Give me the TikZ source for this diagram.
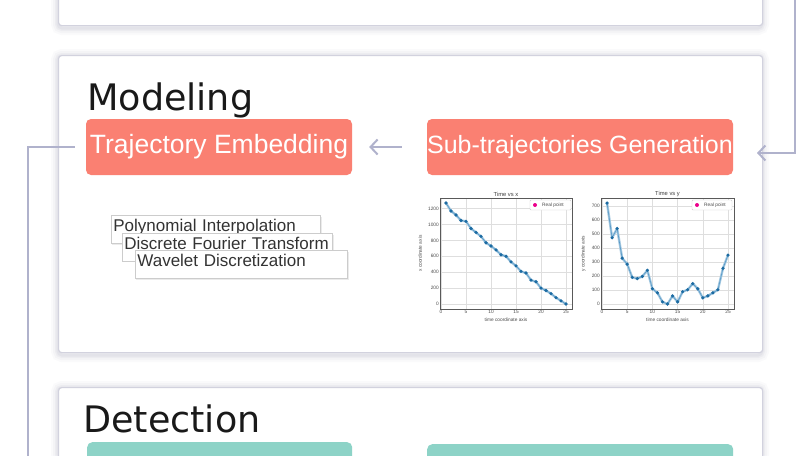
\documentclass[tikz,border=0pt]{standalone}
\usepackage{fontspec}
\setmainfont{Liberation Sans}
\newfontfamily\titlefont{DejaVu Sans}
\usetikzlibrary{arrows.meta}
\definecolor{salmon}{HTML}{FA8072}
\definecolor{teal3}{HTML}{8DD3C7}
\definecolor{panelborder}{HTML}{D2D2DE}
\definecolor{shadowc}{HTML}{8C8CAA}
\definecolor{conn}{HTML}{B0B2CC}
\definecolor{mplblue}{HTML}{1F77B4}
\definecolor{txtgrey}{HTML}{333333}
\begin{document}
\begin{tikzpicture}[x=1pt,y=-1pt,
  panel/.style={fill=white, draw=panelborder, line width=1.2pt, rounded corners=3pt, inner sep=0pt},
  pill/.style={fill=salmon, rounded corners=5pt, text=white, font=\fontsize{25}{28}\selectfont, inner sep=0pt},
  tealbox/.style={fill=teal3, rounded corners=5pt, inner sep=0pt},
  paneltitle/.style={font=\titlefont\fontsize{36.5}{40}\selectfont, text=black!90, inner sep=0pt},
  minibox/.style={fill=white, draw=black!20, line width=0.8pt, inner sep=2pt, align=left, text=txtgrey,
     font=\fontsize{17}{19}\selectfont, text height=14pt, text depth=10pt, anchor=north west},
  boxshadow/.style={fill=black, opacity=0.08},
  connline/.style={draw=conn, line width=2pt},
  arrowc/.style={connline, -{Straight Barb[length=7pt,width=15pt,line width=2pt]}},
  gridl/.style={draw=black!13, line width=0.35pt},
  frame/.style={draw=black!65, line width=0.5pt},
  tick/.style={font=\fontsize{4.8}{5}\selectfont, text=black!70, inner sep=1pt},
  ptitle/.style={font=\fontsize{5.8}{6}\selectfont, text=black!75, inner sep=1pt},
  halo/.style={draw=mplblue!40, line width=2.4pt, line join=round},
  dline/.style={draw=mplblue!75, line width=0.6pt, line join=round},
  dot/.style={fill=mplblue!90!black}
]
\useasboundingbox (0,0) rectangle (808,455);
\clip (0,0) rectangle (808,455);
\fill[white] (0,0) rectangle (808,455);

% soft shadows of the panels
\foreach \w/\o in {14/0.04,10/0.05,6/0.07,3/0.09}{
  \draw[shadowc, line width=\w pt, opacity=\o, rounded corners=4pt] (58,-20) rectangle (762,28);
  \draw[shadowc, line width=\w pt, opacity=\o, rounded corners=4pt] (58,56) rectangle (762,355);
  \draw[shadowc, line width=\w pt, opacity=\o, rounded corners=4pt] (58,388) rectangle (762,480);
}

% panels
\node[panel, minimum width=704pt, minimum height=45pt, anchor=north west] (ptop) at (58,-20) {};
\node[panel, minimum width=704pt, minimum height=297pt, anchor=north west] (pmodel) at (58,55) {};
\node[panel, minimum width=704pt, minimum height=90pt, anchor=north west] (pdetect) at (58,387) {};

% titles
\node[paneltitle, anchor=base west] (tmodel) at (87,110) {Modeling};
\node[paneltitle, anchor=base west] (tdetect) at (83,432) {Detection};

% main boxes
\node[pill, minimum width=266pt, minimum height=56pt, font=\fontsize{26.5}{28}\selectfont] (te) at (219,147) {Trajectory Embedding};
\node[pill, minimum width=306pt, minimum height=56pt] (sg) at (580,147) {Sub-trajectories Generation};

\node[tealbox, minimum width=265pt, minimum height=60pt, anchor=north west] (d1) at (87,442) {};
\node[tealbox, minimum width=306pt, minimum height=60pt, anchor=north west] (d2) at (427,444) {};

% connectors
\draw[arrowc, shorten <=25pt, shorten >=17pt] (sg.west) -- (te.east);
\coordinate (rtop) at (795,-5);
\coordinate (rtip) at (757,153);
\draw[arrowc] (rtop) |- (rtip);
\coordinate (lbot) at (28,470);
\draw[connline, shorten <=11pt] (te.west) -| (lbot);

% embedding methods (each with a faint shadow)
\fill[boxshadow] (112,217) rectangle (321.5,245);
\node[minibox, text width=205pt] (m1) at (111,215) {Polynomial Interpolation};
\fill[boxshadow] (123,235) rectangle (333.5,262);
\node[minibox, text width=206pt] (m2) at (122,233) {Discrete Fourier Transform};
\fill[boxshadow] (136,252) rectangle (348.5,280);
\node[minibox, text width=208pt] (m3) at (135,250) {Wavelet Discretization};

% ---------- plot 1: Time vs x ----------
\begin{scope}[shift={(441,304)}, x=5pt, y=0.0795pt]
  \foreach \t in {0,5,...,25}{
    \draw[gridl] (\t,-63.5) -- (\t,1333.5);
    \node[tick, anchor=north] at (\t,-63.5) {\t};
  }
  \foreach \v in {0,200,...,1200}{
    \draw[gridl] (-0.2,\v) -- (26.2,\v);
    \node[tick, anchor=east] at (-0.2,\v) {\v};
  }
  \draw[frame] (-0.2,-63.5) rectangle (26.2,1333.5);
  \node[ptitle, anchor=south] (t1) at (13,1333.5) {Time vs x};
  \node[tick, anchor=north] (xl1) at (13,-160) {time coordinate axis};
  \node[tick, rotate=90, anchor=south] (yl1) at (-3.6,635) {x coordinate axis};
  \def\pa{(1,1270) (2,1170) (3,1120) (4,1050) (5,1040) (6,950) (7,900) (8,850) (9,770) (10,730) (11,680) (12,620) (13,600) (14,530) (15,480) (16,410) (17,390) (18,300) (19,280) (20,200) (21,170) (22,130) (23,80) (24,40) (25,0)}
  \draw[halo] plot coordinates {\pa};
  \draw[dline] plot coordinates {\pa};
  \foreach \p in {(1,1270),(2,1170),(3,1120),(4,1050),(5,1040),(6,950),(7,900),(8,850),(9,770),(10,730),(11,680),(12,620),(13,600),(14,530),(15,480),(16,410),(17,390),(18,300),(19,280),(20,200),(21,170),(22,130),(23,80),(24,40),(25,0)}
    \fill[dot] \p circle[radius=1.8pt];
\end{scope}
\draw[draw=black!20, fill=white, line width=0.4pt, rounded corners=1pt] (530,200) rectangle (571,210);
\fill[magenta] (535,205) circle[radius=2pt];
\node[tick, anchor=west] (lg1) at (541,205) {Real point};

% ---------- plot 2: Time vs y ----------
\begin{scope}[shift={(602,304)}, x=5.04pt, y=0.1398pt]
  \foreach \t in {0,5,...,25}{
    \draw[gridl] (\t,-36) -- (\t,758);
    \node[tick, anchor=north] at (\t,-36) {\t};
  }
  \foreach \v in {0,100,...,700}{
    \draw[gridl] (-0.2,\v) -- (26.2,\v);
    \node[tick, anchor=east] at (-0.2,\v) {\v};
  }
  \draw[frame] (-0.2,-36) rectangle (26.2,758);
  \node[ptitle, anchor=south] (t2) at (13,758) {Time vs y};
  \node[tick, anchor=north] (xl2) at (13,-90) {time coordinate axis};
  \node[tick, rotate=90, anchor=south] (yl2) at (-3,360) {y coordinate axis};
  \def\pb{(1,722) (2,474) (3,540) (4,328) (5,285) (6,190) (7,182) (8,197) (9,241) (10,109) (11,80) (12,15) (13,0) (14,58) (15,15) (16,88) (17,102) (18,146) (19,109) (20,44) (21,58) (22,80) (23,102) (24,255) (25,350)}
  \draw[halo] plot coordinates {\pb};
  \draw[dline] plot coordinates {\pb};
  \foreach \p in {(1,722),(2,474),(3,540),(4,328),(5,285),(6,190),(7,182),(8,197),(9,241),(10,109),(11,80),(12,15),(13,0),(14,58),(15,15),(16,88),(17,102),(18,146),(19,109),(20,44),(21,58),(22,80),(23,102),(24,255),(25,350)}
    \fill[dot] \p circle[radius=1.8pt];
\end{scope}
\draw[draw=black!20, fill=white, line width=0.4pt, rounded corners=1pt] (692,200) rectangle (732,210);
\fill[magenta] (697,205) circle[radius=2pt];
\node[tick, anchor=west] (lg2) at (703,205) {Real point};
\end{tikzpicture}
\end{document}
